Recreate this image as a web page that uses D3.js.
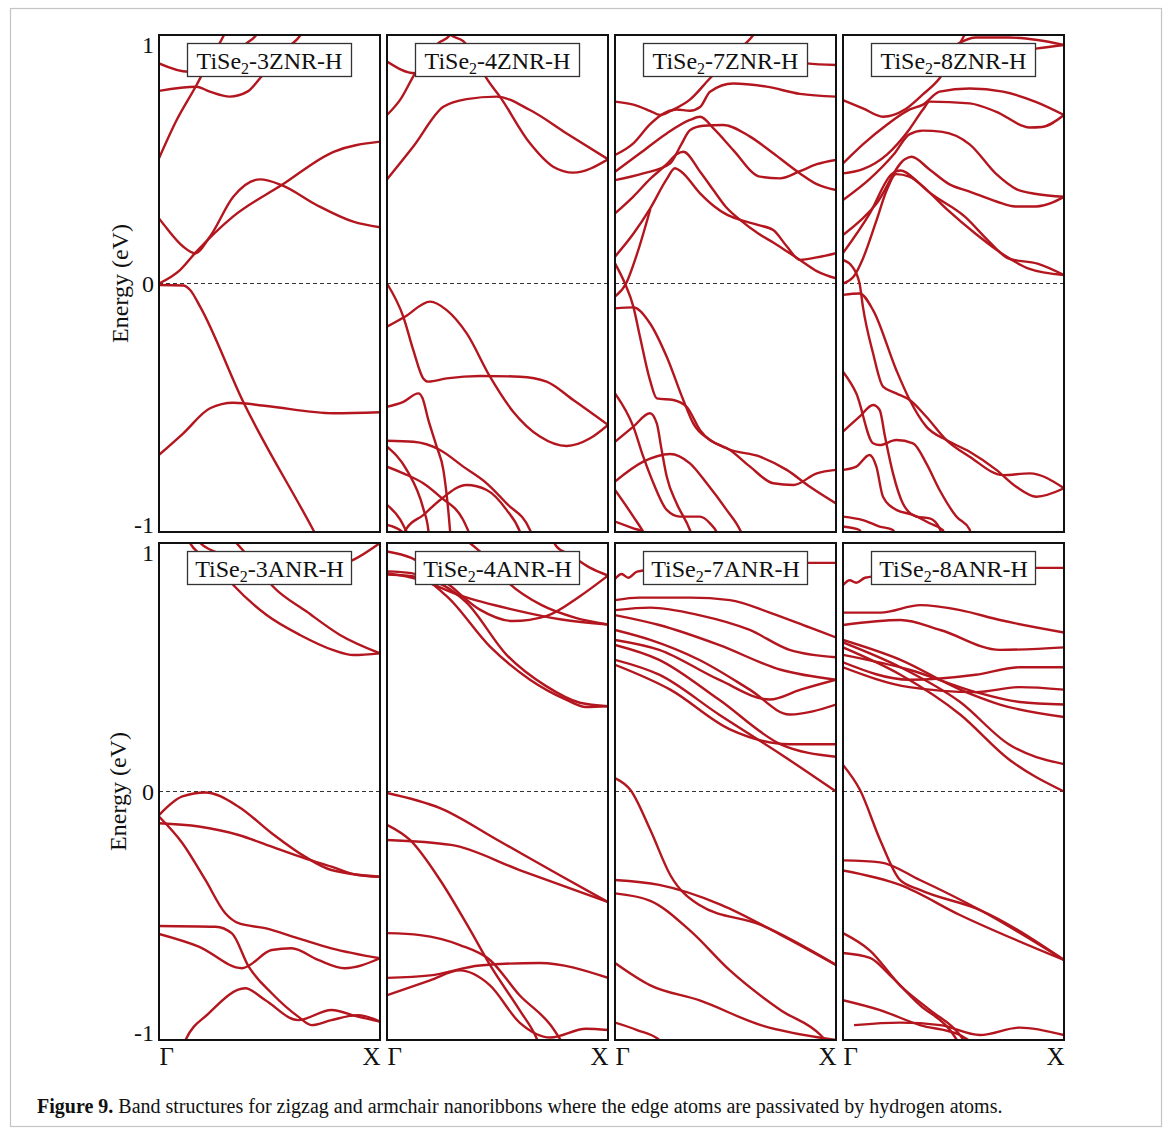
<!DOCTYPE html>
<html>
<head>
<meta charset="utf-8">
<script src="https://cdn.jsdelivr.net/npm/d3@7/dist/d3.min.js"></script>
<style>
  body { margin: 0; background: #fff; }
  text { font-family: "Liberation Serif", "Times New Roman", serif; fill: #111; }
</style>
</head>
<body>
<script>
// band data: each band is a list of [k, E] (k: 0 = Gamma, 1 = X)
var names = ["3ZNR", "4ZNR", "7ZNR", "8ZNR", "3ANR", "4ANR", "7ANR", "8ANR"];
var yTicks = [-1, 0, 1];
var xTickLabels = ["\u0393", "X"];

var bands3ZNR = [
  [[0,0.886],[0.133,0.852],[0.25,0.88],[0.397,0.967],[0.44,1.0],[0.46,1.03]],
  [[0,0.775],[0.17,0.792],[0.23,0.772],[0.32,0.752],[0.40,0.772],[0.457,0.826],[0.55,0.93],[0.64,1.0],[0.66,1.03]],
  [[0,0.504],[0.08,0.658],[0.17,0.799],[0.23,0.9],[0.29,0.993],[0.31,1.03]],
  [[0,0.262],[0.035,0.222],[0.11,0.148],[0.163,0.122],[0.23,0.188],[0.336,0.349],[0.457,0.419],[0.555,0.396],[0.713,0.316],[0.879,0.249],[1,0.226]],
  [[0,0.0],[0.095,0.054],[0.163,0.122],[0.336,0.27],[0.555,0.396],[0.79,0.53],[1,0.571]],
  [[0,-0.006],[0.11,-0.008],[0.14,-0.025],[0.186,-0.093],[0.381,-0.476],[0.698,-0.992],[0.75,-1.08]],
  [[0,-0.69],[0.11,-0.603],[0.231,-0.502],[0.336,-0.48],[0.487,-0.493],[0.789,-0.522],[1,-0.518]]
];

var bands4ZNR = [
  [[0,0.893],[0.127,0.846],[0.2,0.86],[0.26,0.89]],
  [[0,0.678],[0.06,0.74],[0.127,0.846],[0.232,0.967],[0.285,1.0],[0.3,1.03]],
  [[0.26,1.03],[0.29,1.0],[0.345,0.975],[0.40,0.91],[0.45,0.826],[0.511,0.752],[0.647,0.564],[0.752,0.47],[0.843,0.446],[1,0.50]],
  [[0,0.419],[0.119,0.551],[0.255,0.711],[0.36,0.742],[0.496,0.752],[0.647,0.698],[0.813,0.604],[1,0.50]],
  [[0,0.0],[0.074,-0.134],[0.119,-0.268],[0.164,-0.382],[0.187,-0.395],[0.27,-0.382],[0.421,-0.372],[0.602,-0.375],[0.722,-0.395],[0.843,-0.469],[1,-0.569]],
  [[0,-0.174],[0.081,-0.134],[0.195,-0.073],[0.27,-0.107],[0.36,-0.2],[0.466,-0.375],[0.571,-0.516],[0.692,-0.616],[0.813,-0.654],[0.919,-0.623],[1,-0.569]],
  [[0,-0.496],[0.074,-0.476],[0.142,-0.442],[0.16,-0.46],[0.187,-0.549],[0.225,-0.657],[0.255,-0.75],[0.285,-0.992],[0.29,-1.05]],
  [[0,-0.633],[0.119,-0.637],[0.24,-0.67],[0.345,-0.737],[0.451,-0.804],[0.541,-0.885],[0.647,-0.992],[0.66,-1.02]],
  [[0,-0.657],[0.089,-0.75],[0.164,-0.905],[0.187,-0.992],[0.19,-1.02]],
  [[0,-0.737],[0.074,-0.764],[0.164,-0.804],[0.24,-0.858],[0.345,-0.952],[0.37,-1.0],[0.38,-1.02]],
  [[0,-0.891],[0.06,-0.95],[0.089,-1.0],[0.1,-1.02]],
  [[0.07,-1.02],[0.089,-0.985],[0.164,-0.932],[0.24,-0.871],[0.36,-0.811],[0.451,-0.831],[0.541,-0.911],[0.602,-1.0],[0.61,-1.02]],
  [[0,-0.972],[0.07,-1.0],[0.08,-1.02]]
];

var bands7ZNR = [
  [[0.75,0.9],[0.867,0.886],[1,0.879]],
  [[0,0.732],[0.083,0.72],[0.158,0.695],[0.204,0.678],[0.264,0.70],[0.339,0.74],[0.43,0.826],[0.535,0.92],[0.626,1.0],[0.65,1.03]],
  [[0,0.517],[0.083,0.564],[0.158,0.64],[0.204,0.675],[0.279,0.70],[0.339,0.695],[0.385,0.71],[0.43,0.772],[0.535,0.805],[0.686,0.792],[0.837,0.763],[1,0.752]],
  [[0,0.45],[0.113,0.524],[0.234,0.604],[0.339,0.658],[0.385,0.671],[0.45,0.62],[0.535,0.537],[0.656,0.43],[0.747,0.423],[0.837,0.452],[0.913,0.48],[1,0.497]],
  [[0,0.416],[0.128,0.443],[0.249,0.483],[0.30,0.56],[0.339,0.617],[0.40,0.635],[0.49,0.638],[0.611,0.591],[0.716,0.524],[0.837,0.443],[0.913,0.40],[1,0.376]],
  [[0,0.282],[0.083,0.35],[0.158,0.42],[0.234,0.48],[0.279,0.52],[0.309,0.53],[0.385,0.45],[0.45,0.37],[0.5,0.31],[0.566,0.256],[0.65,0.2],[0.716,0.165],[0.777,0.13],[0.837,0.095],[0.913,0.05],[1,0.021]],
  [[0,0.108],[0.083,0.2],[0.158,0.3],[0.234,0.42],[0.271,0.464],[0.3,0.45],[0.385,0.363],[0.45,0.31],[0.5,0.28],[0.566,0.256],[0.65,0.235],[0.716,0.215],[0.777,0.15],[0.837,0.095],[0.913,0.105],[1,0.122]],
  [[0,-0.053],[0.05,0.0],[0.1,0.12],[0.16,0.3]],
  [[0,0.081],[0.045,0.0],[0.083,-0.093],[0.113,-0.214],[0.158,-0.388],[0.189,-0.462],[0.264,-0.469],[0.324,-0.496],[0.385,-0.59],[0.505,-0.663],[0.656,-0.697],[0.777,-0.75],[0.882,-0.818],[1,-0.885]],
  [[0,-0.1],[0.083,-0.096],[0.158,-0.16],[0.234,-0.295],[0.309,-0.469],[0.354,-0.563],[0.43,-0.63],[0.52,-0.67],[0.611,-0.737],[0.716,-0.804],[0.807,-0.811],[0.913,-0.764],[1,-0.75]],
  [[0,-0.442],[0.083,-0.576],[0.128,-0.697],[0.174,-0.804],[0.234,-0.911],[0.294,-0.938],[0.385,-0.938],[0.43,-0.965],[0.46,-1.0],[0.47,-1.02]],
  [[0,-0.637],[0.083,-0.576],[0.158,-0.522],[0.189,-0.563],[0.211,-0.67],[0.234,-0.777],[0.279,-0.885],[0.339,-0.992],[0.35,-1.02]],
  [[0,-0.797],[0.128,-0.717],[0.249,-0.686],[0.339,-0.724],[0.415,-0.804],[0.505,-0.911],[0.566,-0.992],[0.58,-1.02]],
  [[0,-0.831],[0.083,-0.938],[0.128,-1.0],[0.14,-1.02]],
  [[0,-0.958],[0.083,-0.985],[0.128,-1.0],[0.14,-1.02]]
];

var bands8ZNR = [
  [[0.5,0.955],[0.6,0.99],[0.75,0.99],[0.88,0.98],[1,0.96]],
  [[0.7,0.92],[0.88,0.946],[1,0.96]],
  [[0,0.738],[0.09,0.705],[0.181,0.671],[0.28,0.70],[0.36,0.76],[0.437,0.826],[0.49,0.9],[0.55,1.0],[0.57,1.03]],
  [[0,0.483],[0.09,0.56],[0.2,0.64],[0.3,0.70],[0.362,0.72],[0.437,0.772],[0.573,0.785],[0.724,0.772],[0.875,0.73],[1,0.678]],
  [[0,0.443],[0.09,0.46],[0.2,0.52],[0.3,0.62],[0.362,0.70],[0.392,0.732],[0.573,0.725],[0.694,0.691],[0.845,0.628],[0.9,0.63],[1,0.678]],
  [[0,0.336],[0.12,0.42],[0.23,0.52],[0.30,0.60],[0.36,0.615],[0.45,0.61],[0.573,0.56],[0.694,0.44],[0.784,0.38],[0.875,0.36],[1,0.349]],
  [[0,0.195],[0.15,0.32],[0.28,0.50],[0.31,0.51],[0.39,0.46],[0.48,0.40],[0.573,0.37],[0.694,0.33],[0.78,0.31],[0.875,0.31],[1,0.349]],
  [[0,0.122],[0.12,0.28],[0.22,0.44],[0.26,0.455],[0.35,0.40],[0.468,0.30],[0.6,0.20],[0.72,0.12],[0.84,0.06],[1,0.034]],
  [[0,0.0],[0.05,0.03],[0.09,0.1],[0.15,0.25],[0.2,0.38],[0.24,0.44],[0.3,0.43],[0.4,0.36],[0.55,0.27],[0.66,0.17],[0.75,0.10],[0.88,0.08],[1,0.034]],
  [[0,0.095],[0.04,0.07],[0.075,0.0],[0.09,-0.093],[0.136,-0.281],[0.181,-0.415],[0.241,-0.442],[0.302,-0.469],[0.377,-0.536],[0.468,-0.63],[0.573,-0.697],[0.724,-0.771],[0.845,-0.764],[1,-0.824]],
  [[0,-0.046],[0.075,-0.04],[0.136,-0.107],[0.241,-0.348],[0.302,-0.469],[0.377,-0.576],[0.468,-0.63],[0.573,-0.677],[0.694,-0.75],[0.784,-0.818],[0.875,-0.858],[1,-0.824]],
  [[0,-0.355],[0.06,-0.442],[0.136,-0.643],[0.166,-0.65],[0.241,-0.63],[0.317,-0.643],[0.377,-0.724],[0.437,-0.831],[0.513,-0.938],[0.573,-0.99],[0.58,-1.02]],
  [[0,-0.596],[0.075,-0.536],[0.136,-0.489],[0.166,-0.509],[0.19,-0.616],[0.226,-0.763],[0.271,-0.885],[0.332,-0.938],[0.392,-0.945],[0.437,-0.985],[0.45,-1.02]],
  [[0,-0.75],[0.06,-0.737],[0.12,-0.69],[0.151,-0.737],[0.181,-0.858],[0.241,-0.911],[0.317,-0.931],[0.392,-0.965],[0.452,-0.992],[0.46,-1.02]],
  [[0,-0.938],[0.09,-0.952],[0.166,-0.978],[0.226,-0.992],[0.24,-1.02]],
  [[0,-0.978],[0.075,-0.992],[0.09,-1.02]]
];

var bands3ANR = [
  [[0.13,1.02],[0.14,1.0],[0.25,0.92],[0.336,0.831],[0.487,0.71],[0.638,0.63],[0.789,0.569],[0.88,0.549],[1,0.556]],
  [[0.33,1.02],[0.35,1.0],[0.43,0.92],[0.517,0.824],[0.668,0.724],[0.819,0.63],[1,0.556]],
  [[0.17,1.02],[0.186,1.0],[0.3,0.95],[0.5,0.89],[0.7,0.89],[0.879,0.932],[1,1.0]],
  [[0,-0.095],[0.106,-0.02],[0.21,-0.004],[0.36,-0.061],[0.51,-0.168],[0.66,-0.262],[0.78,-0.316],[1,-0.343]],
  [[0,-0.128],[0.18,-0.141],[0.36,-0.175],[0.51,-0.222],[0.66,-0.269],[0.78,-0.302],[0.9,-0.336],[1,-0.343]],
  [[0,-0.101],[0.106,-0.208],[0.21,-0.356],[0.30,-0.49],[0.36,-0.53],[0.48,-0.55],[0.63,-0.591],[0.78,-0.631],[1,-0.671]],
  [[0,-0.541],[0.256,-0.544],[0.33,-0.571],[0.406,-0.705],[0.51,-0.812],[0.63,-0.906],[0.69,-0.94],[0.78,-0.92],[0.9,-0.9],[1,-0.926]],
  [[0,-0.573],[0.18,-0.624],[0.376,-0.711],[0.51,-0.638],[0.60,-0.631],[0.72,-0.678],[0.84,-0.711],[1,-0.671]],
  [[0.11,-1.02],[0.12,-1.0],[0.225,-0.893],[0.39,-0.792],[0.48,-0.839],[0.63,-0.92],[0.78,-0.879],[0.90,-0.906],[1,-0.926]]
];

var bands4ANR = [
  [[0,0.966],[0.11,0.94],[0.27,0.84],[0.42,0.732],[0.57,0.686],[0.72,0.706],[0.873,0.786],[1,0.869]],
  [[0,0.886],[0.11,0.879],[0.27,0.786],[0.465,0.584],[0.647,0.45],[0.81,0.37],[0.9,0.34],[1,0.343]],
  [[0,0.873],[0.16,0.86],[0.36,0.76],[0.54,0.551],[0.72,0.424],[0.873,0.357],[1,0.343]],
  [[0,0.879],[0.146,0.853],[0.34,0.786],[0.57,0.732],[0.79,0.692],[1,0.672]],
  [[0.33,1.03],[0.44,0.95],[0.55,0.84],[0.7,0.75],[0.85,0.70],[1,0.672]],
  [[0.74,1.03],[0.767,0.986],[0.83,0.952],[0.92,0.9],[1,0.869]],
  [[0,-0.006],[0.24,-0.067],[0.5,-0.195],[0.78,-0.336],[1,-0.445]],
  [[0,-0.195],[0.29,-0.215],[0.6,-0.316],[1,-0.445]],
  [[0,-0.134],[0.104,-0.195],[0.24,-0.356],[0.376,-0.557],[0.466,-0.698],[0.6,-0.88],[0.67,-0.98],[0.69,-1.02]],
  [[0,-0.57],[0.15,-0.578],[0.33,-0.618],[0.466,-0.678],[0.6,-0.82],[0.74,-0.94],[0.8,-1.02]],
  [[0,-0.75],[0.195,-0.74],[0.42,-0.70],[0.69,-0.69],[1,-0.75]],
  [[0,-0.82],[0.195,-0.76],[0.33,-0.72],[0.466,-0.78],[0.6,-0.93],[0.74,-0.99],[0.9,-0.955],[1,-0.96]]
];

var bands7ANR = [
  [[0,0.855],[0.03,0.875],[0.06,0.86],[0.1,0.885],[0.25,0.9],[0.6,0.915],[0.85,0.92],[1,0.92]],
  [[0,0.77],[0.11,0.78],[0.34,0.78],[0.52,0.77],[0.70,0.72],[0.88,0.66],[1,0.62]],
  [[0,0.73],[0.16,0.74],[0.38,0.71],[0.61,0.65],[0.79,0.57],[1,0.54]],
  [[0,0.71],[0.2,0.67],[0.47,0.59],[0.75,0.49],[1,0.45]],
  [[0,0.65],[0.16,0.61],[0.38,0.53],[0.61,0.41],[0.79,0.31],[1,0.35]],
  [[0,0.61],[0.2,0.57],[0.47,0.45],[0.7,0.37],[0.84,0.41],[1,0.45]],
  [[0,0.59],[0.2,0.53],[0.47,0.37],[0.75,0.19],[1,0.14]],
  [[0,0.53],[0.2,0.47],[0.47,0.31],[0.75,0.15],[1,0.0]],
  [[0,0.51],[0.25,0.41],[0.52,0.25],[0.79,0.19],[1,0.19]],
  [[0,0.054],[0.07,0.006],[0.16,-0.155],[0.25,-0.336],[0.38,-0.456],[0.66,-0.537],[1,-0.698]],
  [[0,-0.356],[0.2,-0.376],[0.48,-0.456],[0.75,-0.577],[1,-0.698]],
  [[0,-0.41],[0.16,-0.44],[0.34,-0.56],[0.52,-0.72],[0.75,-0.88],[0.93,-0.98],[0.97,-1.02]],
  [[0,-0.69],[0.16,-0.78],[0.38,-0.84],[0.66,-0.94],[1,-1.0]],
  [[0,-0.93],[0.1,-0.96],[0.2,-1.0],[0.22,-1.02]]
];

var bands8ANR = [
  [[0,0.83],[0.03,0.85],[0.06,0.84],[0.1,0.86],[0.3,0.88],[0.6,0.89],[0.88,0.9],[1,0.9]],
  [[0,0.72],[0.17,0.72],[0.35,0.75],[0.53,0.73],[0.71,0.69],[1,0.64]],
  [[0,0.67],[0.26,0.69],[0.44,0.65],[0.71,0.57],[1,0.58]],
  [[0,0.61],[0.26,0.53],[0.53,0.41],[0.71,0.35],[1,0.30]],
  [[0,0.6],[0.26,0.5],[0.53,0.36],[0.75,0.19],[1,0.11]],
  [[0,0.58],[0.26,0.47],[0.53,0.31],[0.75,0.13],[1,0.0]],
  [[0,0.55],[0.3,0.49],[0.6,0.40],[0.8,0.36],[1,0.35]],
  [[0,0.52],[0.3,0.45],[0.6,0.47],[0.8,0.5],[1,0.50]],
  [[0,0.5],[0.3,0.42],[0.6,0.4],[0.8,0.42],[1,0.41]],
  [[0,0.107],[0.077,0.006],[0.168,-0.195],[0.258,-0.356],[0.348,-0.396],[0.62,-0.477],[1,-0.678]],
  [[0,-0.277],[0.168,-0.285],[0.348,-0.356],[0.62,-0.477],[1,-0.678]],
  [[0,-0.318],[0.258,-0.376],[0.529,-0.497],[1,-0.678]],
  [[0,-0.57],[0.122,-0.64],[0.258,-0.78],[0.394,-0.88],[0.529,-0.98],[0.56,-1.02]],
  [[0,-0.65],[0.122,-0.67],[0.213,-0.74],[0.348,-0.86],[0.484,-0.96],[0.53,-1.02]],
  [[0,-0.84],[0.168,-0.88],[0.348,-0.94],[0.529,-0.98],[0.6,-1.02]],
  [[0.05,-0.94],[0.258,-0.93],[0.44,-0.94],[0.62,-0.98],[0.8,-0.95],[1,-0.98]]
];

var allBands = [bands3ZNR, bands4ZNR, bands7ZNR, bands8ZNR, bands3ANR, bands4ANR, bands7ANR, bands8ANR];

// layout
var W = 1171, H = 1135;
var colX = [159, 387, 615, 843], rowY = [35, 543];
var pw = 221, ph = 497;
var bandColor = "#b3161e";

var svg = d3.select("body").append("svg")
    .attr("width", W)
    .attr("height", H);

// outer grey frame of the figure
svg.append("rect")
    .attr("x", 10.5).attr("y", 8.5)
    .attr("width", 1151).attr("height", 1118)
    .attr("fill", "none")
    .attr("stroke", "#c4c4c4")
    .attr("stroke-width", 1.2);

var line = d3.line().curve(d3.curveMonotoneX);

names.forEach(function(name, i) {
    var row = Math.floor(i / 4), col = i % 4;
    var x0 = colX[col], y0 = rowY[row];
    var x = d3.scaleLinear().domain([0, 1]).range([x0, x0 + pw]);
    var y = d3.scaleLinear().domain([-1, 1]).range([y0 + ph, y0]);
    var g = svg.append("g");

    g.append("clipPath").attr("id", "clip" + i)
      .append("rect")
        .attr("x", x0).attr("y", y0)
        .attr("width", pw).attr("height", ph);

    // Fermi level
    g.append("line")
        .attr("x1", x(0)).attr("x2", x(1))
        .attr("y1", y(0)).attr("y2", y(0))
        .attr("stroke", "#333")
        .attr("stroke-width", 1)
        .attr("stroke-dasharray", "4,3");

    line.x(function(d) { return x(d[0]); })
        .y(function(d) { return y(d[1]); });

    g.append("g")
        .attr("clip-path", "url(#clip" + i + ")")
      .selectAll("path")
      .data(allBands[i])
      .enter().append("path")
        .attr("d", line)
        .attr("fill", "none")
        .attr("stroke", bandColor)
        .attr("stroke-width", 2.4);

    // frame
    g.append("rect")
        .attr("x", x0).attr("y", y0)
        .attr("width", pw).attr("height", ph)
        .attr("fill", "none")
        .attr("stroke", "#111")
        .attr("stroke-width", 2);

    // label box
    var bw = 164, bh = 33;
    var bx = x0 + pw / 2 - bw / 2, by = y0 + 8.5;
    g.append("rect")
        .attr("x", bx).attr("y", by)
        .attr("width", bw).attr("height", bh)
        .attr("fill", "#fff")
        .attr("stroke", "#333")
        .attr("stroke-width", 1.3);
    var t = g.append("text")
        .attr("x", x0 + pw / 2)
        .attr("y", by + 25)
        .attr("text-anchor", "middle")
        .style("font-size", "24px");
    t.append("tspan").text("TiSe");
    t.append("tspan").text("2").attr("dy", 5).style("font-size", "16px");
    t.append("tspan").text("-" + name + "-H").attr("dy", -5);

    // y axis on the first column
    if (col === 0) {
        var ya = g.append("g")
            .attr("transform", "translate(" + x0 + ",0)")
            .call(d3.axisLeft(y).tickValues(yTicks).tickSize(0).tickPadding(5)
                  .tickFormat(function(d) { return d; }));
        ya.select(".domain").remove();
        ya.selectAll("text")
            .style("font-size", "24px")
            .style("font-family", "Liberation Serif, serif")
            .attr("fill", "#111")
            .attr("dy", function(d) { return d === 1 ? "0.72em" : (d === 0 ? "0.34em" : "0em"); });

        g.append("text")
            .attr("transform", "translate(" + (row === 0 ? 128 : 126) + "," + (y0 + ph / 2) + ") rotate(-90)")
            .attr("text-anchor", "middle")
            .style("font-size", "24px")
            .text("Energy (eV)");
    }

    // k-path labels on the bottom row
    if (row === 1) {
        var xa = g.append("g")
            .attr("transform", "translate(0," + (y0 + ph) + ")")
            .call(d3.axisBottom(x).tickValues([0, 1]).tickSize(0).tickPadding(7)
                  .tickFormat(function(d, j) { return xTickLabels[j]; }));
        xa.select(".domain").remove();
        xa.selectAll("text")
            .style("font-size", "25px")
            .style("font-family", "Liberation Serif, serif")
            .attr("fill", "#111")
            .attr("text-anchor", function(d) { return d === 0 ? "start" : "end"; });
    }
});

// caption
var cap = svg.append("text")
    .attr("x", 37).attr("y", 1113)
    .style("font-family", "Liberation Serif, serif")
    .style("font-size", "20px");
cap.append("tspan").text("Figure 9.").style("font-weight", "bold");
cap.append("tspan").text(" Band structures for zigzag and armchair nanoribbons where the edge atoms are passivated by hydrogen atoms.");
var capLen = cap.node().getComputedTextLength();
if (capLen > 982) {
    cap.attr("textLength", 982).attr("lengthAdjust", "spacingAndGlyphs");
}
</script>
</body>
</html>
